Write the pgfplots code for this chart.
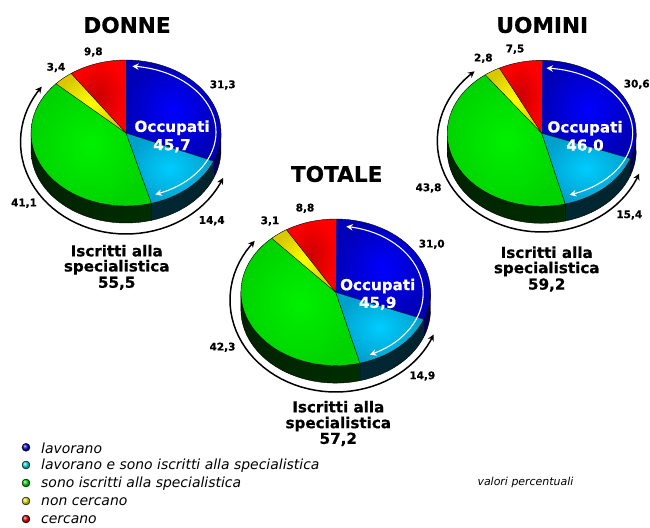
\documentclass[border=0pt]{standalone}
\usepackage{fontspec}
\setmainfont{DejaVu Sans}
\newfontfamily\hv[FakeBold=0.6]{DejaVu Sans Bold}
\usepackage{pgfplots}
\usepackage{pgfplotstable}
\pgfplotsset{compat=1.18}
\usetikzlibrary{arrows.meta}

\pgfplotstableread{
share
31.3
14.4
41.1
3.4
9.8
}\donne
\pgfplotstableread{
share
30.6
15.4
43.8
2.8
7.5
}\uomini
\pgfplotstableread{
share
31.0
14.9
42.3
3.1
8.8
}\totale

\definecolor{bI}{HTML}{0000FF}\definecolor{bO}{HTML}{0000B8}
\definecolor{cI}{HTML}{00CCFF}\definecolor{cO}{HTML}{00A0CC}
\definecolor{gI}{HTML}{00F000}\definecolor{gO}{HTML}{00D400}
\definecolor{yI}{HTML}{FFFF00}\definecolor{yO}{HTML}{D8C800}
\definecolor{rI}{HTML}{CC0000}\definecolor{rO}{HTML}{FF0000}

% append an elliptical arc (t clockwise from the top, in degrees) to \pts
\newcommand\addarc[6]{%
  \pgfmathtruncatemacro\nsteps{max(2,ceil(abs(#6-(#5))/4))}%
  \foreach \kk in {0,...,\nsteps}{%
    \pgfmathsetmacro\tpar{#5+(#6-(#5))*\kk/\nsteps}%
    \pgfmathsetmacro\px{#1+#3*sin(\tpar)}%
    \pgfmathsetmacro\py{#2-#4*cos(\tpar)}%
    \xdef\pts{\pts (\px,\py)}%
  }%
}
\newcommand\plotpts[1]{\edef\tmpplot{\noexpand\addplot[#1] coordinates {\pts};}\tmpplot}

% #1 table, #2 cx, #3 cy, #4 rx, #5 ry, #6 depth
\newcommand\drawpie[6]{%
  % side wall
  \gdef\cum{0}%
  \foreach \rw/\sty in {0/{shade,left color=bO!55!black,right color=bO!30!black},
                       1/{shade,left color=cO!25!black,middle color=cO!60!black,right color=cO!22!black},
                       2/{shade,left color=gO!16!black,middle color=gO!50!black,right color=gO!22!black},
                       3/{fill=yO!40!black},
                       4/{fill=rO!40!black}}{%
    \pgfplotstablegetelem{\rw}{share}\of#1%
    \pgfmathsetmacro\tA{\cum*3.6}%
    \pgfmathsetmacro\tB{(\cum+\pgfplotsretval)*3.6}%
    \pgfmathsetmacro\newcum{\cum+\pgfplotsretval}%
    \xdef\cum{\newcum}%
    \pgfmathsetmacro\wA{max(\tA,90)}%
    \pgfmathsetmacro\wB{min(\tB,270)}%
    \pgfmathparse{\wB>\wA?1:0}%
    \ifdim\pgfmathresult pt>0.5pt
      \gdef\pts{}%
      \addarc{#2}{#3}{#4}{#5}{\wA}{\wB}%
      \pgfmathsetmacro\cyb{#3+#6}%
      \addarc{#2}{\cyb}{#4}{#5}{\wB}{\wA}%
      \plotpts{forget plot,\sty}%
    \fi
  }%
  % top face
  \gdef\cum{0}%
  \foreach \rw/\cn in {0/b,1/c,2/g,3/y,4/r}{%
    \pgfplotstablegetelem{\rw}{share}\of#1%
    \pgfmathsetmacro\tA{\cum*3.6}%
    \pgfmathsetmacro\tB{(\cum+\pgfplotsretval)*3.6}%
    \pgfmathsetmacro\newcum{\cum+\pgfplotsretval}%
    \xdef\cum{\newcum}%
    \xdef\pts{(#2,#3)}%
    \addarc{#2}{#3}{#4}{#5}{\tA}{\tB}%
    \plotpts{forget plot,shade,inner color=\cn I,outer color=\cn O}%
  }%
}
% #1 cx,#2 cy,#3 rx,#4 ry,#5 t1,#6 t2,#7 colour
\newcommand\drawarrow[7]{%
  \gdef\pts{}%
  \addarc{#1}{#2}{#3}{#4}{#5}{#6}%
  \plotpts{forget plot,#7,{Stealth[length=6.5pt,width=6.5pt]}-{Stealth[length=6.5pt,width=6.5pt]}}%
}
\newcommand\lab[3]{\node[anchor=center,inner sep=0pt,font=\fontsize{10.5}{12}\selectfont\hv] at (axis cs:#1,#2) {#3};}
\newcommand\ttl[3]{\node[anchor=center,inner sep=0pt,font=\fontsize{21.7}{24}\selectfont\hv] at (axis cs:#1,#2) {#3};}
\newcommand\bigt[3]{\node[anchor=center,inner sep=0pt,font=\fontsize{15.2}{17}\selectfont\hv,#3] at (axis cs:#1) {#2};}
\newcommand\leg[2]{\node[anchor=west,inner sep=0pt,font=\fontsize{14}{16}\selectfont\itshape] at (axis cs:41,#1) {#2};}

\begin{document}
\begin{tikzpicture}
\begin{axis}[
  scale only axis, width=650bp, height=527bp,
  xmin=0, xmax=650, ymin=0, ymax=527, y dir=reverse,
  hide axis, clip=false]

\path (axis cs:0,0) (axis cs:650,527);

\drawpie{\donne}{126}{133}{95}{73}{17}
\drawpie{\uomini}{541.7}{133.3}{94.5}{73}{17}
\drawpie{\totale}{335.7}{292.3}{94.8}{73.3}{17.5}

\drawarrow{126}{142}{105.5}{92}{113}{307}{black,line width=1.5pt}
\drawarrow{126}{132}{90}{66}{4}{161}{white,line width=1.1pt}
\drawarrow{541.7}{141}{104.4}{91}{111}{320}{black,line width=1.5pt}
\drawarrow{541.7}{133}{91}{65}{3}{162}{white,line width=1.1pt}
\drawarrow{335.7}{300}{105.7}{92}{112}{310}{black,line width=1.5pt}
\drawarrow{335.7}{293}{87.5}{67}{7}{157}{white,line width=1.1pt}

\ttl{127}{25}{DONNE}
\ttl{542.3}{25}{UOMINI}
\ttl{336.7}{174}{TOTALE}

\lab{93.3}{52}{9,8}\lab{56}{67.5}{3,4}\lab{222.7}{85}{31,3}\lab{24}{203.3}{41,1}\lab{211.7}{220.7}{14,4}
\lab{515}{49.3}{7,5}\lab{483.3}{58.3}{2,8}\lab{636.7}{84.3}{30,6}\lab{428.5}{188}{43,8}\lab{629.3}{215}{15,4}
\lab{305}{208.3}{8,8}\lab{270}{221}{3,1}\lab{431.7}{244.3}{31,0}\lab{222.5}{347.3}{42,3}\lab{422.3}{376}{14,9}

\bigt{172,127.7}{Occupati}{white}\bigt{172,145.7}{45,7}{white}
\bigt{585,128.3}{Occupati}{white}\bigt{585,146}{46,0}{white}
\bigt{377.7,286}{Occupati}{white}\bigt{377.7,303.3}{45,9}{white}

\bigt{116.7,250.7}{Iscritti alla}{black}\bigt{116.7,267.3}{specialistica}{black}\bigt{116.7,283.3}{55,5}{black}
\bigt{546.7,252.3}{Iscritti alla}{black}\bigt{546.7,269}{specialistica}{black}\bigt{546.7,285}{59,2}{black}
\bigt{338.3,406.7}{Iscritti alla}{black}\bigt{338.3,424}{specialistica}{black}\bigt{338.3,439.3}{57,2}{black}

\addplot[only marks,mark=ball,mark size=4pt,mark options={ball color=blue!85!black,draw=none}] coordinates {(26,447.3)};
\addplot[only marks,mark=ball,mark size=4pt,mark options={ball color=cyan!85!black,draw=none}] coordinates {(26,465)};
\addplot[only marks,mark=ball,mark size=4pt,mark options={ball color=green!85!black,draw=none}] coordinates {(26,483)};
\addplot[only marks,mark=ball,mark size=4pt,mark options={ball color=yellow!90!black,draw=none}] coordinates {(26,501)};
\addplot[only marks,mark=ball,mark size=4pt,mark options={ball color=red!85!black,draw=none}] coordinates {(26,519)};
\leg{448}{lavorano}
\leg{466}{lavorano e sono iscritti alla specialistica}
\leg{484}{sono iscritti alla specialistica}
\leg{502}{non cercano}
\leg{520}{cercano}
\node[anchor=center,inner sep=0pt,font=\fontsize{11}{12}\selectfont\itshape] at (axis cs:525.5,482.5) {valori percentuali};
\end{axis}
\end{tikzpicture}
\end{document}
